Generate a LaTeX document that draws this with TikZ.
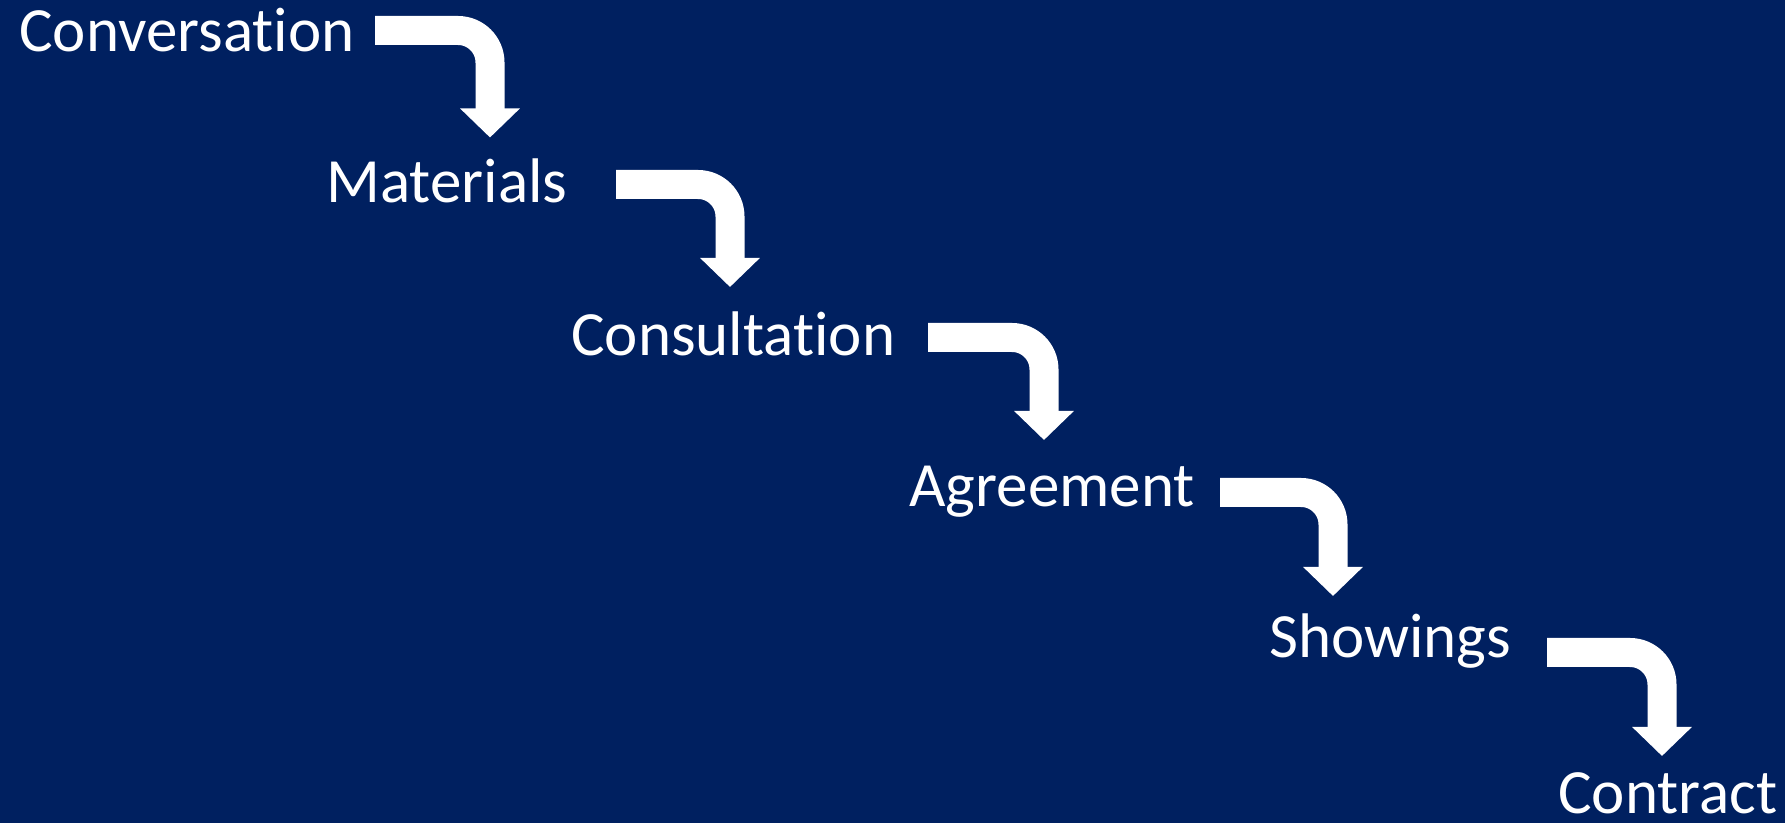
\documentclass[tikz,border=0pt]{standalone}
\usepackage{fontspec}
\setmainfont[Ligatures=NoCommon]{Carlito}
\usepackage{tikz}
\usetikzlibrary{arrows.meta}

\definecolor{navy}{RGB}{0,32,96}

\begin{document}
\begin{tikzpicture}[x=0.5pt,y=-0.5pt,
    stage/.style={anchor=base west,inner sep=0pt,text=white,
      font=\fontsize{31.5}{38}\selectfont},
    bentarrow/.style={draw=white,line width=14.5pt,rounded corners=16pt,
      -{Triangle[width=29pt,length=14.5pt]}}]
  % background, fixes the page size
  \fill[navy] (0,0) rectangle (1785,823);
  \useasboundingbox (0,0) rectangle (1785,823);

  % stages
  \node[stage] (conv) at (19,51.5) {Conversation};
  \node[stage] (mat)  at (326,203) {Materials};
  \node[stage] (cons) at (571,356) {Consultation};
  \node[stage] (agr)  at (909,507) {Agreement};
  \node[stage] (show) at (1269,658) {Showings};
  \node[stage,text depth=0pt] (cont) at (1558,813) {Contract};

  % start and tip of each bent arrow
  \coordinate (s1) at (375,30.5);  \coordinate (t1) at (490,137.5);
  \coordinate (s2) at (616,184.5); \coordinate (t2) at (730,287);
  \coordinate (s3) at (928,337.5); \coordinate (t3) at (1044,440);
  \coordinate (s4) at (1220,492.5); \coordinate (t4) at (1333,596);
  \coordinate (s5) at (1547,652.5); \coordinate (t5) at (1662,756);

  % bent arrows
  \draw[bentarrow] (s1) -| (t1);
  \draw[bentarrow] (s2) -| (t2);
  \draw[bentarrow] (s3) -| (t3);
  \draw[bentarrow] (s4) -| (t4);
  \draw[bentarrow] (s5) -| (t5);

\end{tikzpicture}
\end{document}
